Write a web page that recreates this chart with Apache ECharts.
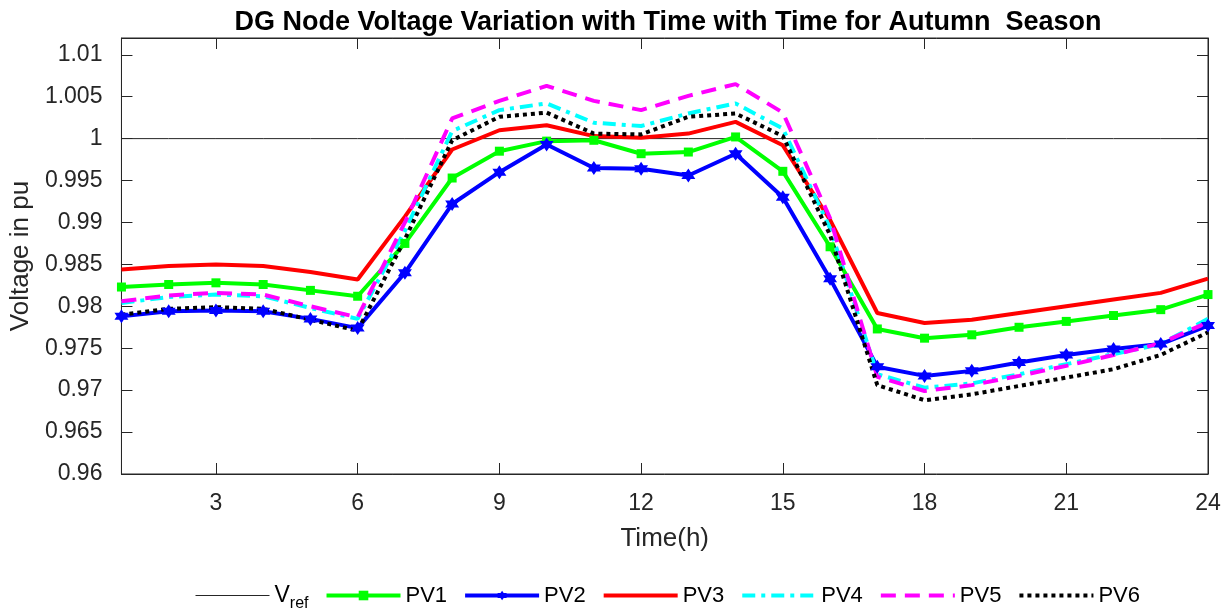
<!DOCTYPE html>
<html>
<head>
    <meta charset="utf-8">
    <title>DG Node Voltage - Autumn</title>
    <script src="https://cdn.jsdelivr.net/npm/echarts@6/dist/echarts.min.js"></script>
    <style>
        html, body {margin: 0; padding: 0; background: #fff;}
        #main {width: 1232px; height: 614px;}
    </style>
</head>
<body>
<div id="main"></div>
<script>
    // ---- data ----
    var hours = [1, 2, 3, 4, 5, 6, 7, 8, 9, 10, 11, 12, 13, 14, 15, 16, 17, 18, 19, 20, 21, 22, 23, 24];
    var xTicks = [3, 6, 9, 12, 15, 18, 21, 24];
    var yTicks = [0.96, 0.965, 0.97, 0.975, 0.98, 0.985, 0.99, 0.995, 1, 1.005, 1.01];
    var vref = [1, 1, 1, 1, 1, 1, 1, 1, 1, 1, 1, 1, 1, 1, 1, 1, 1, 1, 1, 1, 1, 1, 1, 1];
    var pv1 = [0.9823, 0.9826, 0.9828, 0.9826, 0.9819, 0.9812, 0.9875, 0.9953, 0.9985, 0.9997, 0.9998, 0.9982,
        0.9984, 1.0002, 0.9961, 0.9871, 0.9773, 0.9762, 0.9766, 0.9775, 0.9782, 0.9789, 0.9796, 0.9814];
    var pv2 = [0.9788, 0.9794, 0.9795, 0.9794, 0.9785, 0.9774, 0.9840, 0.9922, 0.9960, 0.9993, 0.9965, 0.9964,
        0.9956, 0.9982, 0.9930, 0.9833, 0.9728, 0.9717, 0.9723, 0.9733, 0.9742, 0.9749, 0.9755, 0.9777];
    var pv3 = [0.9844, 0.9848, 0.9850, 0.9848, 0.9841, 0.9832, 0.9907, 0.9987, 1.0010, 1.0016, 1.0003, 1.0001,
        1.0006, 1.0020, 0.9992, 0.9903, 0.9792, 0.9780, 0.9784, 0.9792, 0.9800, 0.9808, 0.9816, 0.9833];
    var pv4 = [0.9804, 0.9811, 0.9814, 0.9812, 0.9798, 0.9785, 0.9890, 1.0009, 1.0034, 1.0042, 1.0019, 1.0015,
        1.0030, 1.0042, 1.0012, 0.9893, 0.9719, 0.9703, 0.9708, 0.9719, 0.9731, 0.9743, 0.9755, 0.9785];
    var pv5 = [0.9806, 0.9813, 0.9816, 0.9814, 0.9800, 0.9787, 0.9900, 1.0024, 1.0045, 1.0063, 1.0045, 1.0034,
        1.0051, 1.0065, 1.0031, 0.9905, 0.9716, 0.9699, 0.9706, 0.9717, 0.9729, 0.9742, 0.9756, 0.9781];
    var pv6 = [0.9790, 0.9797, 0.9799, 0.9797, 0.9784, 0.9771, 0.9880, 0.9998, 1.0026, 1.0031, 1.0006, 1.0005,
        1.0026, 1.0030, 1.0003, 0.9885, 0.9706, 0.9688, 0.9695, 0.9705, 0.9715, 0.9725, 0.9742, 0.9769];

    function pairs(vals) {
        return hours.map(function (h, i) { return [h, vals[i]]; });
    }

    // six point star like the matlab hexagram marker
    var hexagram = 'path://M0,-10L2.89,-5L8.66,-5L5.77,0L8.66,5L2.89,5L0,10L-2.89,5L-8.66,5L-5.77,0L-8.66,-5L-2.89,-5Z';

    var axisColor = '#262626';
    var font = 'Liberation Sans, Arial, Helvetica, sans-serif';

    function lineSeries(name, vals, color, extra) {
        var s = {
            name: name,
            type: 'line',
            data: pairs(vals),
            symbol: 'none',
            lineStyle: {color: color, width: 4},
            itemStyle: {color: color},
            animation: false
        };
        for (var k in extra) s[k] = extra[k];
        return s;
    }

    // legend entries: lines without markers get a hidden symbol
    var noMark = {opacity: 0};

    var chart = echarts.init(document.getElementById('main'), null, {renderer: 'canvas'});
    var option = {
        backgroundColor: '#fff',
        textStyle: {fontFamily: font},
        title: {
            text: 'DG Node Voltage Variation with Time with Time for Autumn  Season',
            left: 663, textAlign: 'center', top: 4,
            textStyle: {fontSize: 27, fontWeight: 'bold', color: '#000', fontFamily: font}
        },
        grid: {left: 119, right: 24, top: 38, bottom: 140, show: true, borderColor: axisColor, borderWidth: 1},
        legend: {
            left: 190, top: 579,
            itemWidth: 74, itemHeight: 12, itemGap: 16,
            lineStyle: {width: 4},
            textStyle: {fontSize: 22, color: '#000', fontFamily: font,
                rich: {
                    v: {fontSize: 23, fontFamily: font, color: '#000'},
                    s: {fontSize: 16, fontFamily: font, color: '#000', padding: [16, 0, 0, 0]}
                }
            },
            formatter: function (name) {
                return name === 'Vref' ? '{v|V}{s|ref}' : name;
            },
            data: [
                {name: 'Vref', itemStyle: noMark, lineStyle: {width: 1}},
                'PV1', 'PV2',
                {name: 'PV3', itemStyle: noMark},
                {name: 'PV4', itemStyle: noMark},
                {name: 'PV5', itemStyle: noMark},
                {name: 'PV6', itemStyle: noMark}
            ]
        },
        xAxis: [{
            type: 'value', min: 1, max: 24,
            name: 'Time(h)', nameLocation: 'middle', nameGap: 52,
            nameTextStyle: {fontSize: 26, color: axisColor, fontFamily: font},
            axisLine: {lineStyle: {color: axisColor}},
            axisTick: {inside: true, length: 11, customValues: xTicks, lineStyle: {color: axisColor}},
            axisLabel: {fontSize: 23, color: axisColor, margin: 18, customValues: xTicks},
            splitLine: {show: false}
        }, {
            type: 'value', min: 1, max: 24, position: 'top',
            axisLine: {lineStyle: {color: axisColor}},
            axisTick: {inside: true, length: 11, customValues: xTicks, lineStyle: {color: axisColor}},
            axisLabel: {show: false},
            splitLine: {show: false}
        }],
        yAxis: [{
            type: 'value', min: 0.96, max: 1.012,
            name: 'Voltage in pu', nameLocation: 'middle', nameGap: 75,
            nameTextStyle: {fontSize: 26, color: axisColor, fontFamily: font},
            axisLine: {show: true, lineStyle: {color: axisColor}},
            axisTick: {show: true, inside: true, length: 11, customValues: yTicks, lineStyle: {color: axisColor}},
            axisLabel: {fontSize: 23, color: axisColor, margin: 19, customValues: yTicks},
            splitLine: {show: false}
        }, {
            type: 'value', min: 0.96, max: 1.012, position: 'right',
            axisLine: {show: true, lineStyle: {color: axisColor}},
            axisTick: {show: true, inside: true, length: 11, customValues: yTicks, lineStyle: {color: axisColor}},
            axisLabel: {show: false},
            splitLine: {show: false}
        }],
        series: [
            lineSeries('Vref', vref, '#262626', {lineStyle: {color: '#262626', width: 1}}),
            lineSeries('PV1', pv1, '#00ff00', {symbol: 'rect', symbolSize: 9, showSymbol: true}),
            lineSeries('PV2', pv2, '#0000ff', {symbol: hexagram, symbolSize: 14, showSymbol: true}),
            lineSeries('PV3', pv3, '#ff0000'),
            lineSeries('PV4', pv4, '#00ffff', {lineStyle: {color: '#00ffff', width: 4, type: [13, 6, 4, 6]}}),
            lineSeries('PV5', pv5, '#ff00ff', {lineStyle: {color: '#ff00ff', width: 4, type: [15, 9]}}),
            lineSeries('PV6', pv6, '#000000', {lineStyle: {color: '#000000', width: 4, type: [4, 4]}})
        ]
    };
    chart.setOption(option);
</script>
</body>
</html>
